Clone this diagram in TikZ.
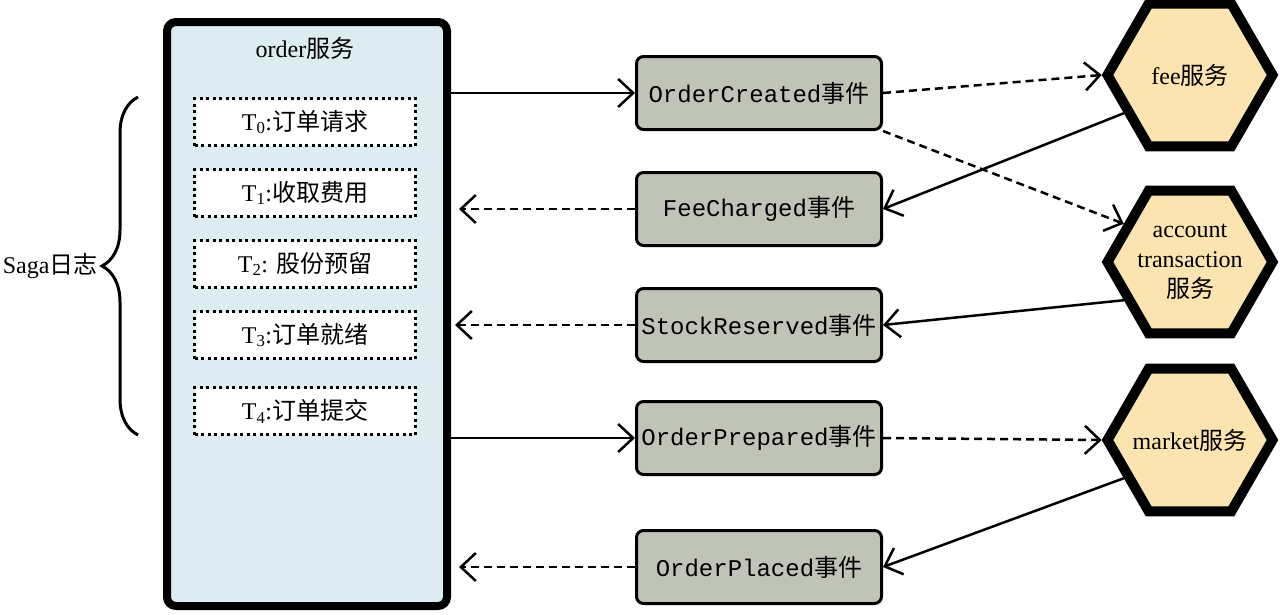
\documentclass[tikz,border=0pt]{standalone}
\usepackage{fontspec}
\setmainfont{Liberation Serif}
\setmonofont{Liberation Mono}
\newfontfamily\zh{Noto Sans CJK SC}
\usetikzlibrary{shapes.geometric,arrows.meta,decorations.pathreplacing}
\definecolor{svcblue}{RGB}{220,236,241}
\definecolor{evgray}{RGB}{191,196,183}
\definecolor{hexor}{RGB}{251,228,176}
\begin{document}
\begin{tikzpicture}[x=1pt,y=-1pt,
  svc/.style={draw, line width=8pt, fill=svcblue, rounded corners=9pt, minimum width=280pt, minimum height=584pt},
  tbox/.style={draw, line width=3.5pt, dash pattern=on 3pt off 3.5pt, fill=white, minimum width=221pt, minimum height=47pt, font=\fontsize{24}{28}\selectfont},
  evbox/.style={draw, line width=3pt, fill=evgray, rounded corners=7pt, minimum width=245pt, minimum height=73pt, inner sep=2pt, font=\ttfamily\fontsize{24}{28}\selectfont},
  hexa/.style={draw, regular polygon, regular polygon sides=6, line width=10pt, fill=hexor, minimum size=165pt, inner sep=0pt},
  hexlbl/.style={align=center, inner sep=0pt, font=\fontsize{24}{30}\selectfont},
  lbl/.style={font=\fontsize{24}{28}\selectfont},
  solidarr/.style={line width=2.5pt, -{Straight Barb[length=15pt,width=28pt]}},
  dasharr/.style={solidarr, dash pattern=on 8pt off 5pt},
]
\useasboundingbox (0,0) rectangle (1280,614);

% order service
\node[svc] (order) at (307,314) {};
\node[lbl] (otitle) at (305,48) {order{\zh 服务}};
\node[tbox] (t0) at (305,122) {T\textsubscript{0}:{\zh 订单请求}};
\node[tbox] (t1) at (305,193) {T\textsubscript{1}:{\zh 收取费用}};
\node[tbox] (t2) at (305,264) {T\textsubscript{2}: {\zh 股份预留}};
\node[tbox] (t3) at (305,335) {T\textsubscript{3}:{\zh 订单就绪}};
\node[tbox] (t4) at (305,411) {T\textsubscript{4}:{\zh 订单提交}};

% brace
\draw[line width=3pt, decorate, decoration={brace, amplitude=36pt}] (138,435) -- (138,97);
\node[lbl, anchor=east] (saga) at (101,266) {Saga{\zh 日志}};

% events
\node[evbox] (oc) at (759,93) {OrderCreated{\zh 事件}};
\node[evbox] (fc) at (759,209) {FeeCharged{\zh 事件}};
\node[evbox] (sr) at (759,325) {StockReserved{\zh 事件}};
\node[evbox] (op) at (759,438) {OrderPrepared{\zh 事件}};
\node[evbox] (opl) at (759,567) {OrderPlaced{\zh 事件}};

% services
\node[hexa] (fee) at (1190,75) {};
\node[hexlbl] (feelbl) at (fee.center) {fee{\zh 服务}};
\node[hexa] (acct) at (1190,262) {};
\node[hexlbl] (acctlbl) at (acct.center) {account\\transaction\\{\zh 服务}};
\node[hexa] (mkt) at (1190,440) {};
\node[hexlbl] (mktlbl) at (mkt.center) {market{\zh 服务}};

% connectors
\draw[solidarr] (order.east |- oc.west) -- (oc.west);
\draw[dasharr] (oc.east) -- (fee.west);
\draw[dasharr] (oc.south east) -- (acct.150);
\draw[solidarr] (fee.210) -- (fc.east);
\draw[dasharr, shorten >=8pt] (fc.west) -- (fc.west -| order.east);
\draw[solidarr] (acct.210) -- (sr.east);
\draw[dasharr, shorten >=4pt] (sr.west) -- (sr.west -| order.east);
\draw[solidarr] (order.east |- op.west) -- (op.west);
\draw[dasharr] (op.east) -- (mkt.west);
\draw[solidarr] (mkt.210) -- (opl.east);
\draw[dasharr, shorten >=8pt] (opl.west) -- (opl.west -| order.east);
\end{tikzpicture}
\end{document}
